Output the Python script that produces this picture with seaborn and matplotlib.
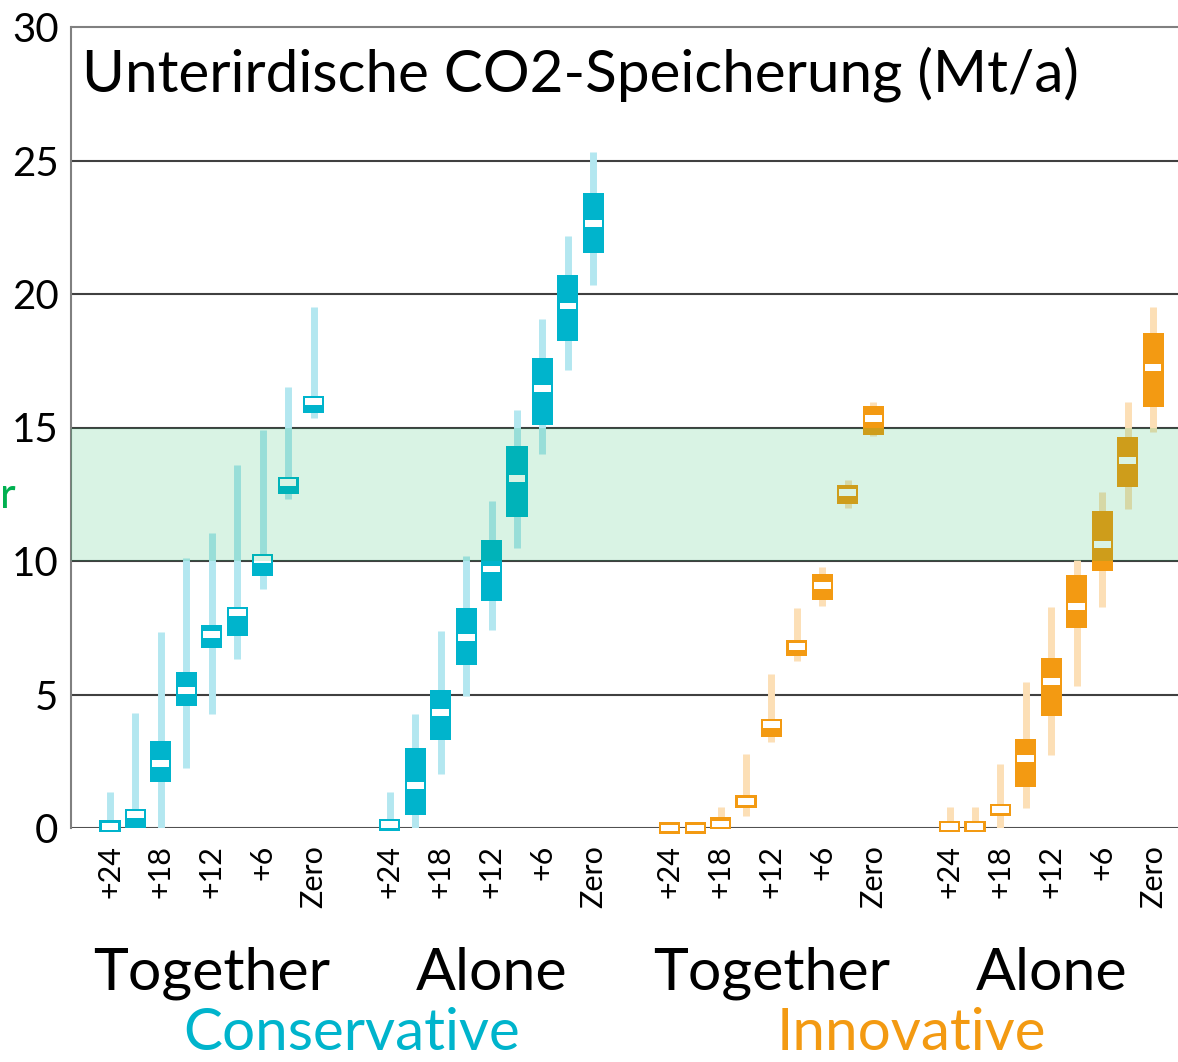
import numpy as np
import pandas as pd
import matplotlib
matplotlib.use("Agg")
import matplotlib.pyplot as plt
import matplotlib.transforms as mtransforms
import seaborn as sns

# ---------------- data ----------------
tick_labels = ["+24", "+18", "+12", "+6", "Zero"]
group_labels = ["Together", "Alone", "Together", "Alone"]
family_labels = ["Conservative", "Innovative"]

cons_together_lo = [0.0, 0.0, 0.0, 2.24, 4.26, 6.32, 8.96, 12.31, 15.34]
cons_together_q1 = [-0.15, 0.0, 1.71, 4.57, 6.73, 7.19, 9.44, 12.5, 15.53]
cons_together_med = [0.07, 0.49, 2.42, 5.14, 7.25, 8.07, 10.07, 12.93, 15.96]
cons_together_q3 = [0.3, 0.71, 3.26, 5.84, 7.6, 8.28, 10.27, 13.13, 16.18]
cons_together_hi = [1.34, 4.3, 7.35, 10.1, 11.06, 13.6, 14.9, 16.53, 19.5]

cons_alone_lo = [0.0, 0.0, 2.04, 4.93, 7.41, 10.5, 14.0, 17.17, 20.32]
cons_alone_q1 = [-0.1, 0.47, 3.29, 6.10, 8.49, 11.66, 15.1, 18.23, 21.52]
cons_alone_med = [0.13, 1.59, 4.31, 7.14, 9.70, 13.09, 16.45, 19.55, 22.63]
cons_alone_q3 = [0.35, 3.01, 5.18, 8.23, 10.79, 14.3, 17.59, 20.7, 23.78]
cons_alone_hi = [1.34, 4.26, 7.36, 10.2, 12.24, 15.64, 19.06, 22.19, 25.3]

inno_together_lo = [0.0, 0.0, 0.0, 0.44, 3.22, 6.24, 8.3, 12.0, 14.67]
inno_together_q1 = [-0.21, -0.21, -0.04, 0.75, 3.41, 6.43, 8.54, 12.13, 14.73]
inno_together_med = [0.0, 0.0, 0.15, 1.0, 3.87, 6.8, 9.09, 12.57, 15.32]
inno_together_q3 = [0.22, 0.22, 0.41, 1.24, 4.08, 7.03, 9.5, 12.83, 15.82]
inno_together_hi = [0.0, 0.0, 0.77, 2.78, 5.77, 8.23, 9.76, 13.05, 15.97]

inno_alone_lo = [0.0, 0.0, 0.0, 0.76, 2.74, 5.31, 8.29, 11.93, 14.85]
inno_alone_q1 = [-0.16, -0.14, 0.44, 1.54, 4.21, 7.48, 9.63, 12.78, 15.76]
inno_alone_med = [0.05, 0.06, 0.68, 2.61, 5.48, 8.28, 10.61, 13.78, 17.23]
inno_alone_q3 = [0.28, 0.28, 0.9, 3.33, 6.35, 9.48, 11.87, 14.64, 18.55]
inno_alone_hi = [0.78, 0.78, 2.38, 5.46, 8.29, 10.03, 12.58, 15.95, 19.53]

band_lo, band_hi = 10, 15

# ---------------- style ----------------
sns.set_theme(style="white")
plt.rcParams["font.family"] = ["Lato", "DejaVu Sans"]
plt.rcParams["text.color"] = "black"
plt.rcParams["xtick.color"] = "black"
plt.rcParams["ytick.color"] = "black"

TEAL = "#00b4cc"
TEAL_L = "#b3e7f0"
ORANGE = "#f39a12"
ORANGE_L = "#fcdfb6"
GREEN = "#00b050"

groups = [
    (cons_together_lo, cons_together_q1, cons_together_med, cons_together_q3, cons_together_hi, TEAL, TEAL_L),
    (cons_alone_lo, cons_alone_q1, cons_alone_med, cons_alone_q3, cons_alone_hi, TEAL, TEAL_L),
    (inno_together_lo, inno_together_q1, inno_together_med, inno_together_q3, inno_together_hi, ORANGE, ORANGE_L),
    (inno_alone_lo, inno_alone_q1, inno_alone_med, inno_alone_q3, inno_alone_hi, ORANGE, ORANGE_L),
]

rows = []
for g, (lo, q1, med, q3, hi, c, cl) in enumerate(groups):
    for i in range(len(lo)):
        rows.append(dict(pos=g * 11 + i, lo=lo[i], q1=q1[i], med=med[i], q3=q3[i], hi=hi[i], color=c, light=cl))
df = pd.DataFrame(rows)

W, H = 1178, 1062
fig = plt.figure(figsize=(W / 100, H / 100), dpi=100)
ax = fig.add_axes([71 / W, (H - 828) / H, (W - 71) / W, (828 - 27) / H])

# grid lines
for yv in [5, 10, 15, 20, 25]:
    ax.axhline(yv, color="#404040", lw=1.5, zorder=1)
ax.axhline(0, color="#505050", lw=1.5, zorder=1)
ax.axhline(30, color="#808080", lw=1.5, zorder=1, clip_on=False)

# whiskers
ax.vlines(df["pos"], df["lo"], df["hi"], colors=df["light"], lw=5.0, zorder=2)
# boxes
ax.bar(df["pos"], df["q3"] - df["q1"], bottom=df["q1"], width=0.83,
       color=df["color"], edgecolor="none", zorder=3, clip_on=False)
# medians
mh = 0.26
ax.bar(df["pos"], mh, bottom=df["med"] - mh / 2, width=0.66,
       color="white", edgecolor="none", zorder=4, clip_on=False)

# target band
ax.axhspan(band_lo, band_hi, color=GREEN, alpha=0.15, lw=0, zorder=5)

ax.set_ylim(0, 30)
ax.set_xlim(-1.533, 41.98)
ax.set_yticks([0, 5, 10, 15, 20, 25, 30])
ax.set_yticklabels(["0", "5", "10", "15", "20", "25", "30"], fontsize=29)
xt = []
xl = []
for g in range(4):
    for k, lab in enumerate(tick_labels):
        xt.append(g * 11 + 2 * k)
        xl.append(lab)
ax.set_xticks(xt)
ax.set_xticklabels(xl, rotation=90, fontsize=22, va="top", ha="center")
ax.tick_params(axis="both", length=0, pad=9)
ax.tick_params(axis="x", pad=12)
for s in ["top", "right", "bottom"]:
    ax.spines[s].set_visible(False)
ax.spines["left"].set_color("#808080")
ax.spines["left"].set_linewidth(1.5)
ax.grid(False)

ax.text(0.0099, 0.919, "Unterirdische CO2-Speicherung (Mt/a)", transform=ax.transAxes,
        fontsize=42, va="baseline", ha="left", color="black", zorder=10)

trans = mtransforms.blended_transform_factory(ax.transData, fig.transFigure)
for g, lab in enumerate(group_labels):
    fig.text(g * 11 + 4, 1 - 990 / H, lab, transform=trans, ha="center", va="baseline", fontsize=42.5)
fig.text(9.5, 1 - 1050 / H, family_labels[0], transform=trans, ha="center", va="baseline", fontsize=42, color=TEAL)
fig.text(31.5, 1 - 1050 / H, family_labels[1], transform=trans, ha="center", va="baseline", fontsize=42, color=ORANGE)

fig.text(0.0, 1 - 508 / H, "r", ha="left", va="baseline", fontsize=31, color=GREEN)

fig.savefig("out.png", dpi=100)
